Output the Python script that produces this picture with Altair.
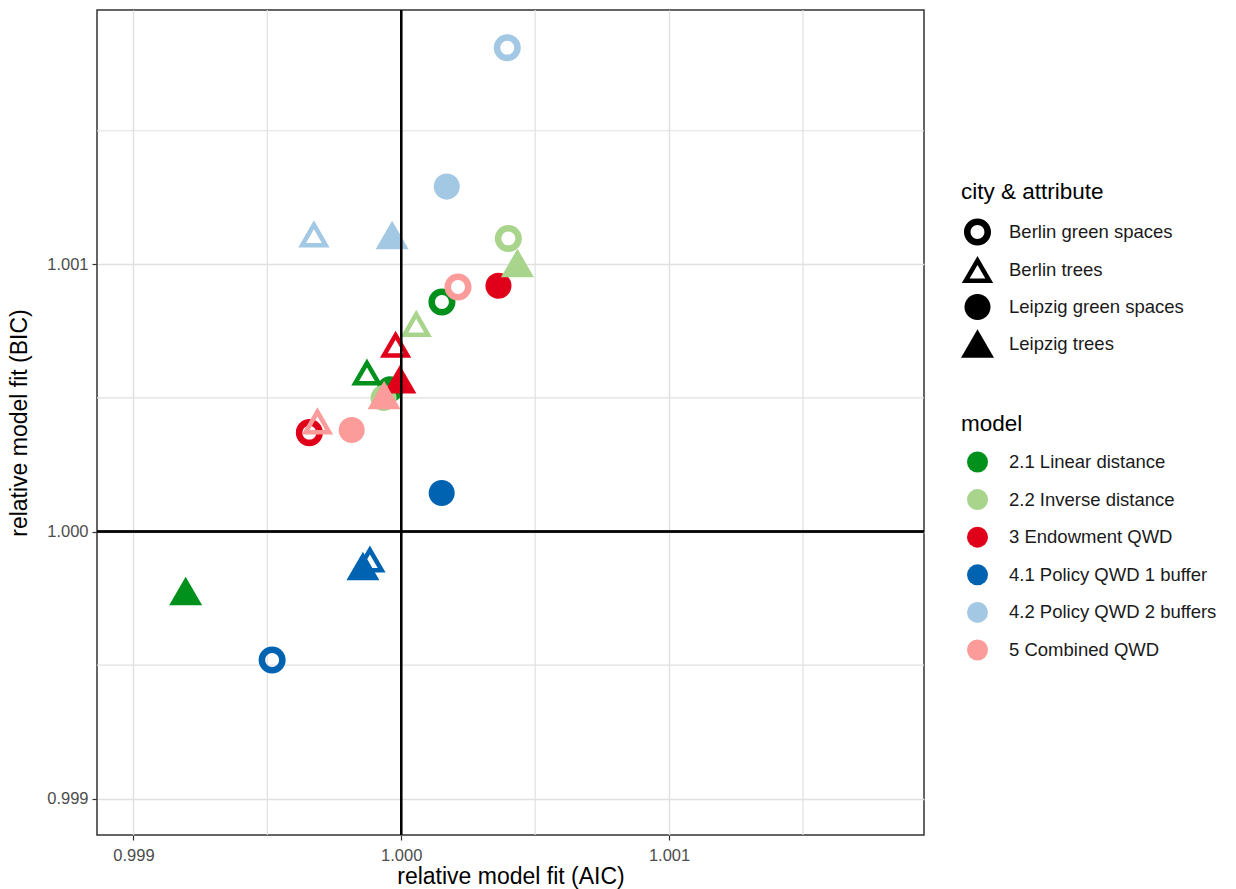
import altair as alt
import pandas as pd

# ---- data -------------------------------------------------------------
city_attribute = [
    "Berlin green spaces", "Berlin green spaces", "Berlin green spaces",
    "Berlin green spaces", "Berlin green spaces", "Berlin green spaces",
    "Berlin trees", "Berlin trees", "Berlin trees",
    "Berlin trees", "Berlin trees", "Berlin trees",
    "Leipzig green spaces", "Leipzig green spaces", "Leipzig green spaces",
    "Leipzig green spaces", "Leipzig green spaces", "Leipzig green spaces",
    "Leipzig trees", "Leipzig trees", "Leipzig trees",
    "Leipzig trees", "Leipzig trees", "Leipzig trees",
]
model = [
    "2.1 Linear distance", "2.2 Inverse distance", "3 Endowment QWD",
    "4.1 Policy QWD 1 buffer", "4.2 Policy QWD 2 buffers", "5 Combined QWD",
] * 4
aic = [
    1.000152, 1.000400, 0.999657, 0.999518, 1.000396, 1.000212,
    0.999872, 1.000056, 0.999979, 0.999883, 0.999674, 0.999687,
    0.999958, 0.999934, 1.000363, 1.000151, 1.000170, 0.999815,
    0.999195, 1.000434, 0.999995, 0.999857, 0.999966, 0.999936,
]
bic = [
    1.000859, 1.001097, 1.000370, 0.999519, 1.001811, 1.000915,
    1.000597, 1.000779, 1.000701, 0.999897, 1.001114, 1.000414,
    1.000532, 1.000500, 1.000920, 1.000144, 1.001291, 1.000380,
    0.999777, 1.001005, 1.000570, 0.999871, 1.001110, 1.000511,
]

model_levels = [
    "2.1 Linear distance", "2.2 Inverse distance", "3 Endowment QWD",
    "4.1 Policy QWD 1 buffer", "4.2 Policy QWD 2 buffers", "5 Combined QWD",
]
model_colors = ["#00901C", "#A8D48C", "#E0001A", "#0063B1", "#A2C8E4", "#FB9C9A"]
city_levels = ["Berlin green spaces", "Berlin trees",
               "Leipzig green spaces", "Leipzig trees"]

major_breaks = [0.999, 1.000, 1.001]
minor_breaks = [0.9995, 1.0005, 1.0015]
axis_domain = [0.998864, 1.001952]

# ---- symbol paths (unit box, scaled by the mark size) -----------------
RING = ("M -0.82 0 A 0.82 0.82 0 1 0 0.82 0 A 0.82 0.82 0 1 0 -0.82 0 Z "
        "M -0.42 0 A 0.42 0.42 0 1 1 0.42 0 A 0.42 0.42 0 1 1 -0.42 0 Z")
OPEN_TRI = ("M 0 -0.82 L 0.95 0.82 L -0.95 0.82 Z "
            "M 0 -0.274 L -0.475 0.547 L 0.475 0.547 Z")
DISC = "M -0.79 0 A 0.79 0.79 0 1 0 0.79 0 A 0.79 0.79 0 1 0 -0.79 0 Z"
TRI = "M 0 -0.866 L 1 0.866 L -1 0.866 Z"
city_shapes = [RING, OPEN_TRI, DISC, TRI]

df = pd.DataFrame({
    "city & attribute": city_attribute,
    "model": model,
    "AIC": aic,
    "BIC": bic,
})
minor_df = pd.DataFrame({"v": minor_breaks})

W, H = 827, 825
GRID = "#e0e0e0"

x_scale = alt.Scale(domain=axis_domain, zero=False, nice=False)
y_scale = alt.Scale(domain=axis_domain, zero=False, nice=False)

x_axis = alt.Axis(values=major_breaks, format=".3f", grid=True, gridColor=GRID,
                  gridWidth=1.4, domain=False, tickColor="#333333", tickSize=5,
                  tickWidth=1.2, labelFontSize=16.5, labelColor="#4d4d4d",
                  labelPadding=7, title="relative model fit (AIC)",
                  titleFontSize=23, titleFontWeight="normal", titleColor="#000000",
                  titlePadding=2)
y_axis = alt.Axis(values=major_breaks, format=".3f", grid=True, gridColor=GRID,
                  gridWidth=1.4, domain=False, tickColor="#333333", tickSize=5,
                  tickWidth=1.2, labelFontSize=16.5, labelColor="#4d4d4d",
                  labelPadding=4, title="relative model fit (BIC)",
                  titleFontSize=23, titleFontWeight="normal", titleColor="#000000",
                  titlePadding=15)

minor_x = alt.Chart(minor_df).mark_rule(color=GRID, strokeWidth=1.2).encode(
    x=alt.X("v:Q", scale=x_scale, axis=x_axis)
)
minor_y = alt.Chart(minor_df).mark_rule(color=GRID, strokeWidth=1.2).encode(
    y=alt.Y("v:Q", scale=y_scale, axis=y_axis)
)

points = alt.Chart(df).mark_point(filled=True, opacity=1, strokeWidth=0, size=1089).encode(
    x=alt.X("AIC:Q", scale=x_scale, axis=x_axis),
    y=alt.Y("BIC:Q", scale=y_scale, axis=y_axis),
    shape=alt.Shape(
        "city & attribute:N",
        scale=alt.Scale(domain=city_levels, range=city_shapes),
        legend=alt.Legend(
            orient="none", legendX=864, legendY=171, padding=0,
            title="city & attribute", titleFontSize=22.5, titleFontWeight="normal",
            titleColor="#000000", titlePadding=12,
            labelFontSize=18.5, labelColor="#1a1a1a", labelOffset=15,
            labelLimit=300, symbolSize=1089, symbolFillColor="#000000",
            symbolStrokeWidth=0, rowPadding=6.5,
        ),
    ),
    color=alt.Color(
        "model:N",
        scale=alt.Scale(domain=model_levels, range=model_colors),
        legend=alt.Legend(
            orient="none", legendX=864, legendY=403, padding=0,
            title="model", titleFontSize=22.5, titleFontWeight="normal",
            titleColor="#000000", titlePadding=16,
            labelFontSize=18.5, labelColor="#1a1a1a", labelOffset=21,
            labelLimit=300, symbolType="circle", symbolSize=441,
            symbolStrokeWidth=0, symbolOffset=6, rowPadding=16.6,
        ),
    ),
)

vline = alt.Chart(minor_df).mark_rule(color="#000000", strokeWidth=2).encode(
    x=alt.datum(1.0)
)
hline = alt.Chart(minor_df).mark_rule(color="#000000", strokeWidth=2).encode(
    y=alt.datum(1.0)
)

chart = (
    alt.layer(minor_x, minor_y, points, vline, hline)
    .properties(width=W, height=H,
                autosize=alt.AutoSizeParams(type="none"),
                padding={"left": 97, "top": 10, "right": 312, "bottom": 54})
    .configure(font="Liberation Sans")
    .configure_view(stroke="#333333", strokeWidth=1.5)
)

chart.save("out.html", embed_options={"renderer": "svg", "actions": False})
